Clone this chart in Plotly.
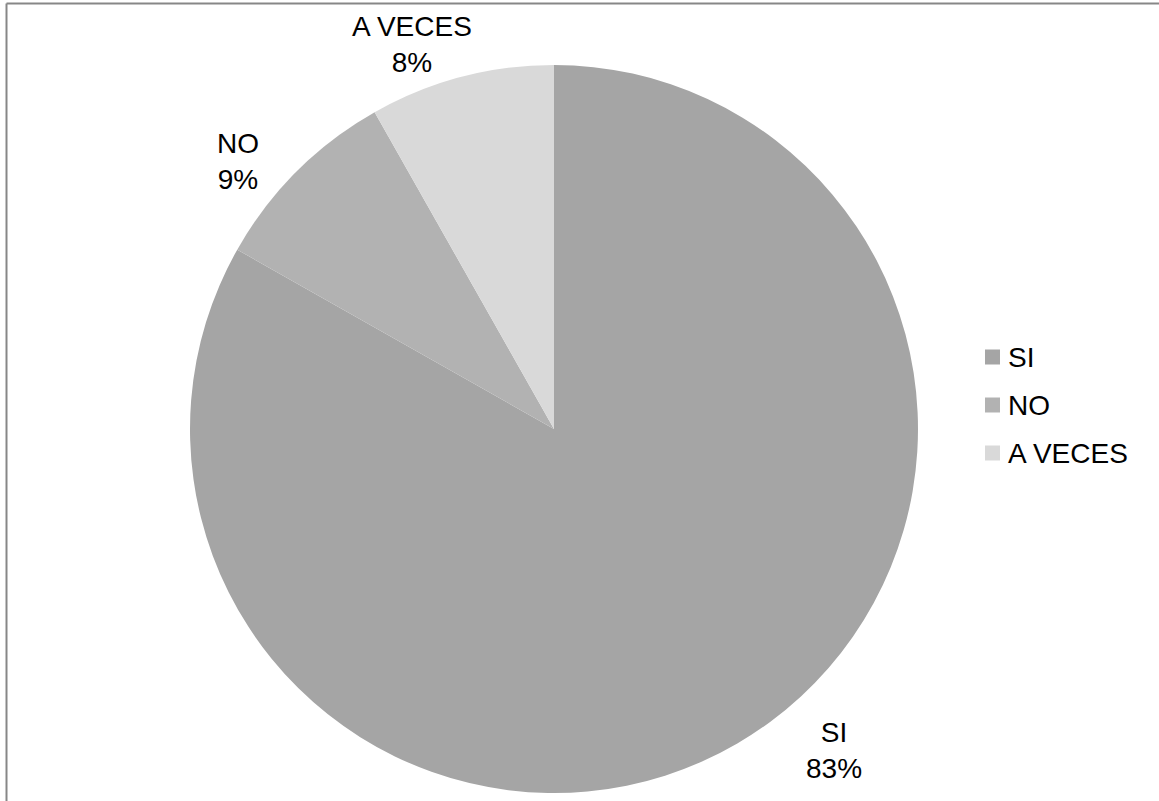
import plotly.graph_objects as go

# ---- data ----
categories = ["SI", "NO", "A VECES"]
values = [83.2, 8.6, 8.2]
colors = ["#a5a5a5", "#b2b2b2", "#d9d9d9"]

W, H = 1159, 801
FONT = "Liberation Sans, Arial, sans-serif"
FS = 28

def px(x):
    return x / W

def py(y):
    return 1 - y / H

# pie geometry (pixels)
cx, cy, r = 554, 429, 364

fig = go.Figure()
fig.add_trace(go.Pie(
    labels=categories,
    values=values,
    sort=False,
    direction="clockwise",
    rotation=0,
    marker=dict(colors=colors, line=dict(width=0)),
    textinfo="none",
    hoverinfo="label+percent",
    domain=dict(x=[px(cx - r), px(cx + r)], y=[py(cy + r), py(cy - r)]),
    showlegend=False,
))

# data labels (text derived from data)
total = sum(values)
label_pos = {"SI": (834, 750), "NO": (238, 161), "A VECES": (412, 44)}
for cat, v in zip(categories, values):
    pct = round(100 * v / total)
    x, y = label_pos[cat]
    fig.add_annotation(
        x=px(x), y=py(y), xref="paper", yref="paper",
        text=f"{cat}<br>{pct}%", showarrow=False,
        xanchor="center", yanchor="middle",
        font=dict(family=FONT, size=FS, color="#000000"),
    )

# legend (Excel-style spacing)
leg_x0, leg_y0, leg_dy, sq = 985, 357, 48, 15
for i, (cat, col) in enumerate(zip(categories, colors)):
    yc = leg_y0 + i * leg_dy
    fig.add_shape(
        type="rect", xref="paper", yref="paper",
        x0=px(leg_x0), x1=px(leg_x0 + sq),
        y0=py(yc + sq / 2), y1=py(yc - sq / 2),
        line=dict(width=0), fillcolor=col,
    )
    fig.add_annotation(
        x=px(leg_x0 + sq + 6), y=py(yc), xref="paper", yref="paper",
        text=cat, showarrow=False, xanchor="left", yanchor="middle",
        font=dict(family=FONT, size=FS, color="#000000"),
    )

# outer frame (only left and top edges are visible)
frame = dict(color="#878787", width=2)
fig.add_shape(type="line", xref="paper", yref="paper",
              x0=px(6.5), x1=px(6.5), y0=0, y1=py(3.5), line=frame)
fig.add_shape(type="line", xref="paper", yref="paper",
              x0=px(6.5), x1=1, y0=py(3.5), y1=py(3.5), line=frame)

fig.update_layout(
    width=W, height=H,
    margin=dict(l=0, r=0, t=0, b=0),
    paper_bgcolor="white", plot_bgcolor="white",
    font=dict(family=FONT, size=FS, color="#000000"),
    showlegend=False,
)

fig.write_html(
    "out.html",
    config={"displayModeBar": False},
    post_script="document.body.style.margin='0px';document.body.style.overflow='hidden';",
)
